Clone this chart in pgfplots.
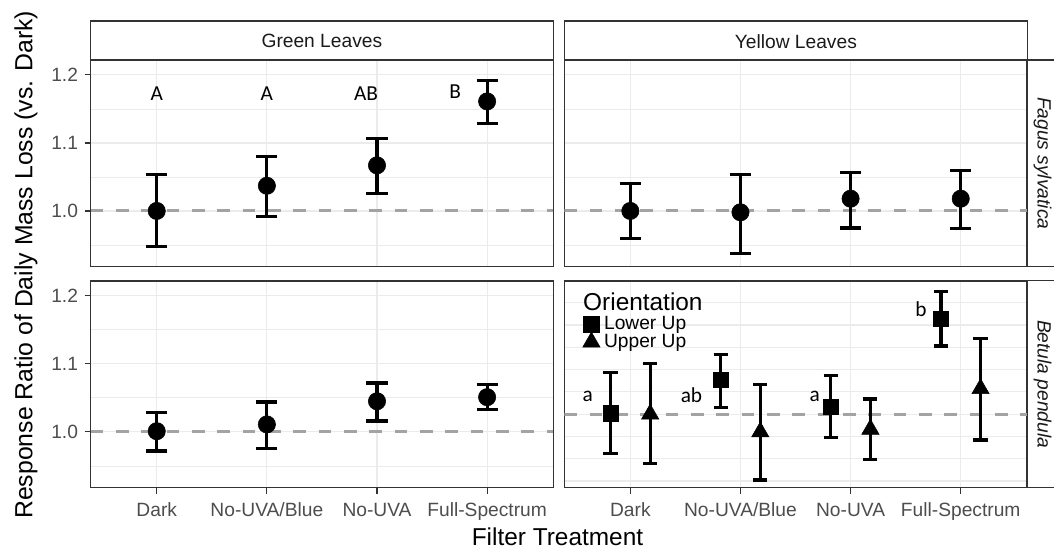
\documentclass[border=0pt]{standalone}
\usepackage{fontspec}
\setmainfont{Liberation Sans}
\newfontfamily\letterfont{Carlito}
\usepackage{pgfplots}
\usepackage{pgfplotstable}
\pgfplotsset{compat=1.18}

\definecolor{frame}{HTML}{333333}
\definecolor{gridc}{HTML}{EBEBEB}
\definecolor{ticktext}{HTML}{4D4D4D}
\definecolor{striptext}{HTML}{1A1A1A}
\definecolor{refline}{HTML}{A3A3A3}

% response ratios with asymmetric error bars (ep = upper, em = lower)
\pgfplotstableread{
x y ep em
1 1.000 0.053 0.052
2 1.037 0.043 0.045
3 1.067 0.040 0.041
4 1.161 0.031 0.032
}\fagusgreen
\pgfplotstableread{
x y ep em
1 1.000 0.040 0.040
2 0.998 0.056 0.060
3 1.018 0.038 0.043
4 1.018 0.041 0.044
}\fagusyellow
\pgfplotstableread{
x y ep em
1 1.001 0.027 0.029
2 1.011 0.033 0.035
3 1.045 0.027 0.029
4 1.051 0.019 0.018
}\betulagreen
% yellow Betula leaves, dodged by orientation
\pgfplotstableread{
x y ep em
0.82 1.002 0.091 0.090
1.82 1.077 0.057 0.062
2.82 1.017 0.069 0.069
3.82 1.214 0.061 0.061
}\betulalower
\pgfplotstableread{
x y ep em
1.18 1.000 0.114 0.110
2.18 0.960 0.106 0.108
3.18 0.966 0.068 0.068
4.18 1.057 0.113 0.115
}\betulaupper

\tikzset{letter/.style={font=\letterfont\fontsize{16}{19}\selectfont, anchor=base}}

\pgfplotsset{
  panel/.style={
    scale only axis, width=346.9pt, height=155.1pt, anchor=south west,
    xmin=0.4, xmax=4.6, xtick={1,2,3,4},
    axis line style={draw=frame, line width=1pt},
    xmajorgrids, ymajorgrids,
    major grid style={draw=gridc, line width=0.9pt},
    minor grid style={draw=gridc, line width=0.55pt},
    tick align=outside, major tick length=4.5pt, minor tick length=0pt,
    tick style={draw=frame, line width=0.9pt},
    ticklabel style={font=\fontsize{14.4}{17}\selectfont, text=ticktext},
    /pgf/number format/assume math mode=true,
    xtick pos=left, ytick pos=left,
  },
  leftpanel/.style={
    ymin=0.918, ymax=1.222,
    ytick={1.0,1.1,1.2}, yticklabels={1.0,1.1,1.2},
    minor ytick={0.95,1.05,1.15}, yminorgrids,
    yticklabel style={anchor=east, inner sep=0pt, xshift=-4.8pt},
  },
  rightpanel/.style={
    yticklabels={}, ytick style={draw=none},
  },
  toppanel/.style={
    xticklabels={}, xtick style={draw=none},
  },
  bottompanel/.style={
    xticklabels={Dark,No-UVA/Blue,No-UVA,Full-Spectrum},
    xticklabel style={anchor=base, inner sep=0pt, yshift=-17.25pt},
  },
  ebar/.style={
    only marks, mark=*, mark size=6.5pt, black,
    mark options={fill=black, draw=black},
    error bars/y dir=both, error bars/y explicit,
    error bars/error bar style={line width=2.4pt, black},
    error bars/error mark options={rotate=90, black, line width=2.4pt, mark size=7.9pt},
  },
  smallcaps/.style={
    error bars/error mark options={rotate=90, black, line width=2.4pt, mark size=5.3pt},
  },
  refdash/.style={refline, line width=2.2pt, dash pattern=on 9.5pt off 9.5pt, forget plot},
}

\begin{document}
\begin{tikzpicture}
\useasboundingbox (0,0) rectangle (790.5pt,411.75pt);

% Green leaves, Fagus sylvatica
\begin{axis}[panel, leftpanel, toppanel, at={(68.0pt,211.7pt)}]
\addplot[refdash] coordinates {(0.4,1) (4.6,1)};
\addplot[ebar] table[x=x, y=y, y error plus=ep, y error minus=em] {\fagusgreen};
\node[letter] at (axis cs:1,1.163) {A};
\node[letter] at (axis cs:2,1.163) {A};
\node[letter] at (axis cs:2.90,1.163) {AB};
\node[letter] at (axis cs:3.71,1.165) {B};
\end{axis}

% Yellow leaves, Fagus sylvatica
\begin{axis}[panel, rightpanel, toppanel, at={(423.2pt,211.7pt)},
  ymin=0.918, ymax=1.222, ytick={1.0,1.1,1.2}, minor ytick={0.95,1.05,1.15}, yminorgrids]
\addplot[refdash] coordinates {(0.4,1) (4.6,1)};
\addplot[ebar] table[x=x, y=y, y error plus=ep, y error minus=em] {\fagusyellow};
\end{axis}

% Green leaves, Betula pendula
\begin{axis}[panel, leftpanel, bottompanel, at={(68.0pt,46.0pt)}]
\addplot[refdash] coordinates {(0.4,1) (4.6,1)};
\addplot[ebar] table[x=x, y=y, y error plus=ep, y error minus=em] {\betulagreen};
\end{axis}

% Yellow leaves, Betula pendula, split by leaf orientation
\begin{axis}[panel, rightpanel, bottompanel, at={(423.2pt,46.0pt)},
  ymin=0.835, ymax=1.299,
  ytick={0.85,0.9,0.95,1,1.05,1.1,1.15,1.2,1.25},
  legend cell align=left,
  legend image code/.code={\draw[#1] plot coordinates {(7pt,0pt)};},
  legend style={at={(0.040,0.827)}, anchor=north west, draw=none, fill=none,
    inner sep=0pt, outer sep=0pt, row sep=0pt, column sep=3pt,
    font=\fontsize{14.4}{14}\selectfont, nodes={inner sep=0pt}}]
\addplot[refdash] coordinates {(0.4,1) (4.6,1)};
\addplot[ebar, smallcaps, mark=square*, mark size=5.8pt, forget plot]
  table[x=x, y=y, y error plus=ep, y error minus=em] {\betulalower};
\addplot[ebar, smallcaps, mark=triangle*, mark size=7.5pt, forget plot]
  table[x=x, y=y, y error plus=ep, y error minus=em] {\betulaupper};
\addlegendimage{only marks, mark=square*, mark size=5.8pt, black}
\addlegendentry{Lower Up}
\addlegendimage{only marks, mark=triangle*, mark size=7.5pt, black}
\addlegendentry{Upper Up}
\node[anchor=base west, font=\fontsize{18.3}{22}\selectfont, inner sep=0pt] at (rel axis cs:0.0404,0.858) {Orientation};
\node[letter] at (axis cs:0.614,1.0276) {a};
\node[letter] at (axis cs:1.555,1.026) {ab};
\node[letter] at (axis cs:2.675,1.028) {a};
\node[letter] at (axis cs:3.638,1.219) {b};
\end{axis}

% facet strips
\draw[frame, line width=1pt] (68.0pt,366.75pt) rectangle (414.9pt,396pt);
\draw[frame, line width=1pt] (423.2pt,366.75pt) rectangle (770.6pt,396pt);
\draw[frame, line width=1pt] (770.6pt,211.7pt) rectangle (800pt,366.75pt);
\draw[frame, line width=1pt] (770.6pt,46.0pt) rectangle (800pt,201.2pt);
\node[font=\fontsize{14.4}{17}\selectfont, text=striptext] at (241.4pt,380.8pt) {Green Leaves};
\node[font=\fontsize{14.4}{17}\selectfont, text=striptext] at (596.9pt,380.8pt) {Yellow Leaves};
\node[font=\itshape\fontsize{14.4}{17}\selectfont, text=striptext, rotate=-90] at (781.9pt,289.3pt) {Fagus sylvatica};
\node[font=\itshape\fontsize{14.4}{17}\selectfont, text=striptext, rotate=-90] at (781.9pt,123.6pt) {Betula pendula};

% axis titles
\node[font=\fontsize{18.6}{22}\selectfont, rotate=90] at (19.5pt,213.2pt) {Response Ratio of Daily Mass Loss (vs. Dark)};
\node[font=\fontsize{18.3}{22}\selectfont, anchor=base] at (418.1pt,2.4pt) {Filter Treatment};
\end{tikzpicture}
\end{document}
